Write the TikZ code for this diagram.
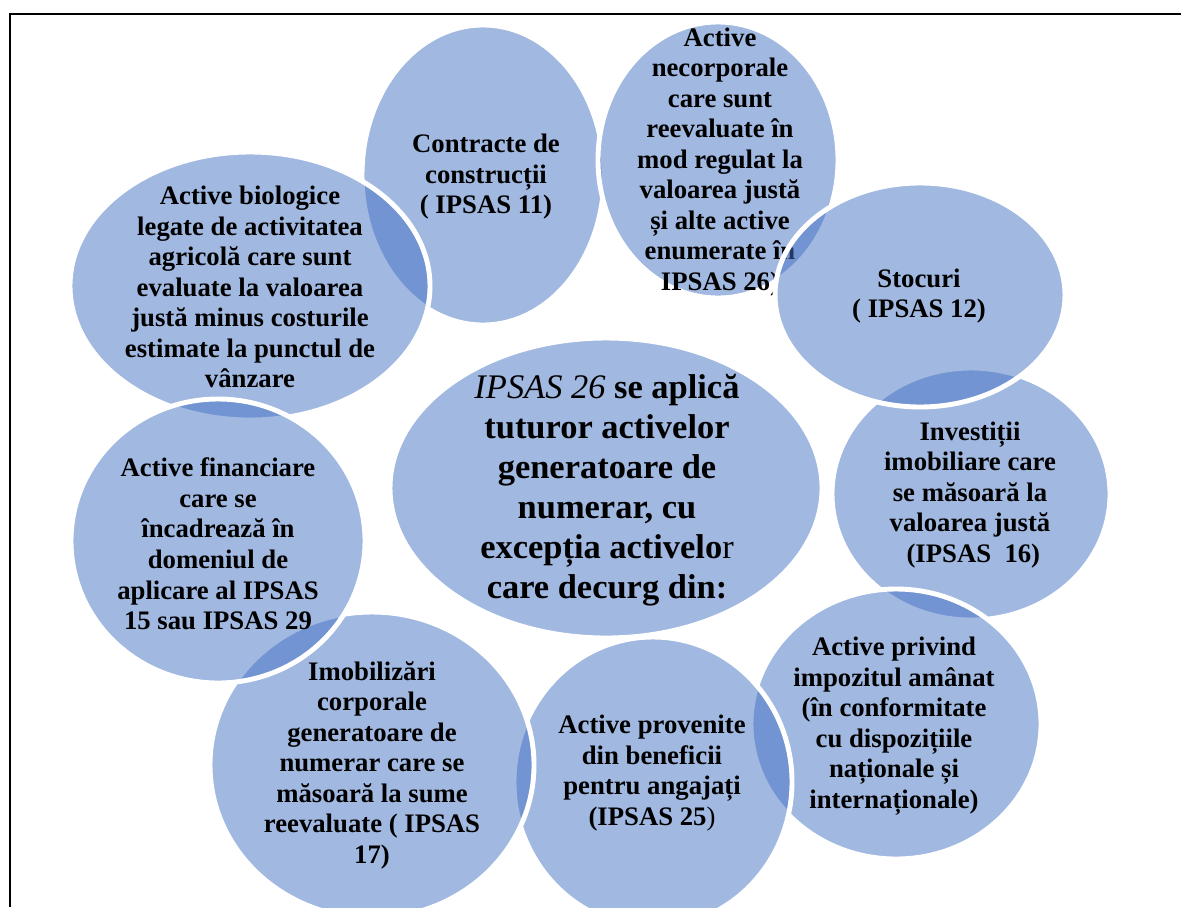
\documentclass[tikz,border=0pt]{standalone}
\usepackage{fontspec}
\setmainfont{Liberation Serif}
\usetikzlibrary{shapes.geometric}
\definecolor{accent}{HTML}{4472C4}
\begin{document}
\begin{tikzpicture}[x=0.025cm, y=-0.025cm,
bubble/.style 2 args={ellipse, draw=white, line width=3.5pt, fill=accent, fill opacity=0.5,
    inner sep=0pt, minimum width=#1*0.025cm, minimum height=#2*0.025cm},
txt/.style={align=center, inner sep=0pt, font=\bfseries\fontsize{19}{21.7}\selectfont},
bigtxt/.style={align=center, inner sep=0pt, font=\bfseries\fontsize{24.5}{28.4}\selectfont}]
\clip (0,0) rectangle (1181,907);
\fill[white] (0,0) rectangle (1181,907);
\draw[line width=1.4pt] (10,907) -- (10,14) -- (1181,14);

\node[bubble={242}{300}] (contr) at (483,175) {};
\node[txt] (contr-t) at (486,177) {Contracte de\\construcții\\( IPSAS 11)};
\node[bubble={240}{276}] (necorp) at (718,160) {};
\node[txt] (necorp-t) at (720,162) {Active\\necorporale\\care sunt\\reevaluate în\\mod regulat la\\valoarea justă\\și alte active\\enumerate în\\IPSAS 26)};
\node[bubble={278}{252}] (invest) at (971,494) {};
\node[txt] (invest-t) at (970,495) {Investiții\\imobiliare care\\se măsoară la\\valoarea justă\\\ (IPSAS\ \ 16)};
\node[bubble={290}{224}] (stoc) at (920,295) {};
\node[txt] (stoc-t) at (919,296) {Stocuri\\( IPSAS 12)};
\node[bubble={290}{270}] (impoz) at (896,724) {};
\node[txt] (impoz-t) at (894,726) {Active privind\\impozitul amânat\\(în conformitate\\cu dispozițiile\\naționale și\\internaționale)};
\node[bubble={432}{300}] (ipsas) at (606,488) {};
\node[bigtxt] (ipsas-t) at (607,490) {{\mdseries\itshape IPSAS 26} se aplică\\tuturor activelor\\generatoare de\\numerar, cu\\excepția activelo{\mdseries r}\\care decurg din:};
\node[bubble={278}{290}] (benef) at (653,782) {};
\node[txt] (benef-t) at (652,773) {Active provenite\\din beneficii\\pentru angajați\\(IPSAS 25{\mdseries )}};
\node[bubble={324}{306}] (imob) at (372,765) {};
\node[txt] (imob-t) at (372,765) {Imobilizări\\corporale\\generatoare de\\numerar care se\\măsoară la sume\\reevaluate ( IPSAS\\17)};
\node[bubble={360}{268}] (biolog) at (250,286) {};
\node[txt] (biolog-t) at (250,287) {Active biologice\\legate de activitatea\\agricolă care sunt\\evaluate la valoarea\\justă minus costurile\\estimate la punctul de\\vânzare};
\node[bubble={294}{284}] (financ) at (218,541) {};
\node[txt] (financ-t) at (218,544) {Active financiare\\care se\\încadrează în\\domeniul de\\aplicare al IPSAS\\15 sau IPSAS 29};
\end{tikzpicture}
\end{document}
